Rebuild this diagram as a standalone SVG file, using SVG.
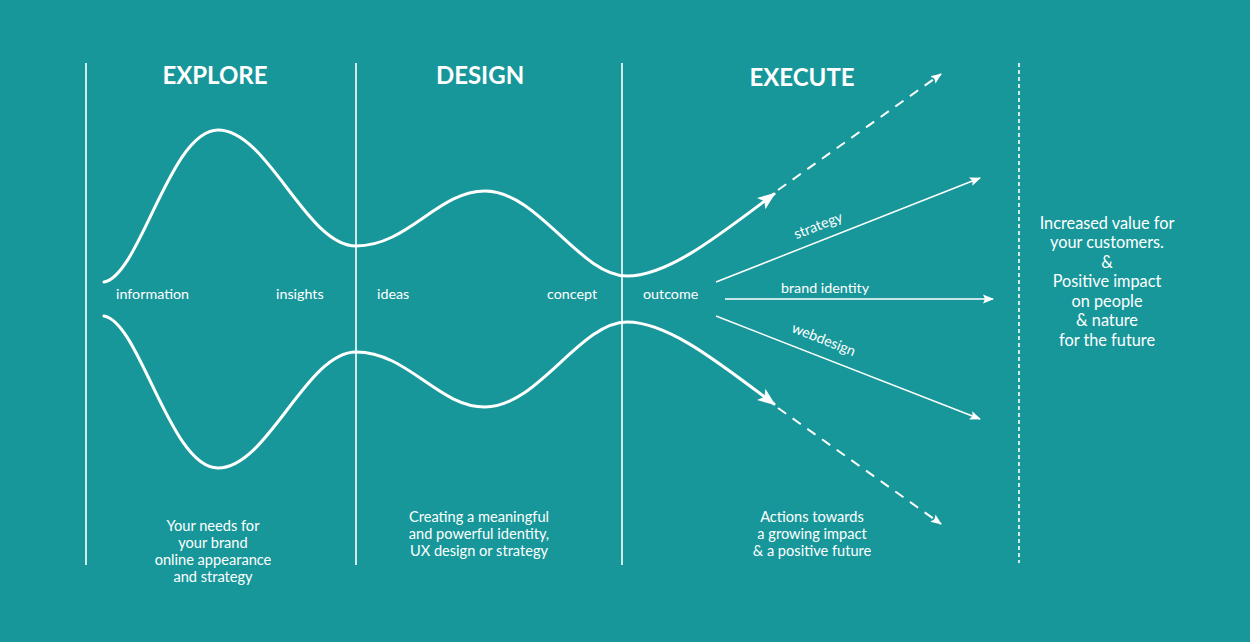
<svg xmlns="http://www.w3.org/2000/svg" width="1250" height="642" viewBox="0 0 1250 642">
<defs>
<style>
.bg{fill:#18979a}
.div{stroke:#fff;stroke-width:1.6;fill:none}
.curve{stroke:#fff;stroke-width:3;fill:none;stroke-linecap:round}
.thin{stroke:#fff;stroke-width:1.5;fill:none}
.dash{stroke:#fff;stroke-width:2;fill:none;stroke-dasharray:10 8}
.title{font-family:Lato,"Open Sans","Liberation Sans",sans-serif;font-weight:bold;font-size:24px;fill:#fff;text-anchor:middle}
.lbl{font-family:Lato,"Open Sans","Liberation Sans",sans-serif;font-size:14.3px;fill:#fff}
.desc{font-size:14.6px}
.mid{text-anchor:middle}
.big{font-size:16.3px}
</style>
<marker id="bigArrow" markerUnits="userSpaceOnUse" markerWidth="20" markerHeight="16" refX="16" refY="8" orient="auto">
<path d="M0,1 L18,8 L0,15 L4,8 Z" fill="#fff"/>
</marker>
<marker id="smallArrow" markerUnits="userSpaceOnUse" markerWidth="12" markerHeight="10" refX="10" refY="5" orient="auto">
<path d="M0,0.5 L11,5 L0,9.5 L2,5 Z" fill="#fff"/>
</marker>
</defs>
<rect class="bg" x="0" y="0" width="1250" height="642"/>

<g id="dividers">
<line class="div" x1="86" y1="63" x2="86" y2="565"/>
<line class="div" x1="356" y1="63" x2="356" y2="565"/>
<line class="div" x1="622" y1="63" x2="622" y2="565"/>
<line stroke="#fff" stroke-width="1.6" stroke-dasharray="4 3" x1="1019" y1="63" x2="1019" y2="563"/>
</g>

<g id="titles">
<text class="title" x="215" y="84">EXPLORE</text>
<text class="title" x="480" y="84">DESIGN</text>
<text class="title" x="802" y="86">EXECUTE</text>
</g>

<g id="connectors">
<path id="topCurve" class="curve" marker-end="url(#bigArrow)" d="M104,282 C140,276 170,130 218,130 C268,130 306,246 356,246 C408,246 438,191 485,191 C538,191 580,276 627,276 C668,276 718,236 774,194"/>
<path id="bottomCurve" class="curve" marker-end="url(#bigArrow)" d="M104,316 C140,322 170,468 218,468 C268,468 306,352 356,352 C408,352 438,407 485,407 C538,407 580,322 627,322 C668,322 718,362 774,404"/>
<line class="dash" x1="778" y1="190" x2="941" y2="74" marker-end="url(#smallArrow)"/>
<line class="dash" x1="778" y1="408" x2="941" y2="524" marker-end="url(#smallArrow)"/>
<line class="thin" x1="716" y1="282" x2="980" y2="178" marker-end="url(#smallArrow)"/>
<line class="thin" x1="725" y1="299" x2="993" y2="299" marker-end="url(#smallArrow)"/>
<line class="thin" x1="716" y1="316" x2="980" y2="419" marker-end="url(#smallArrow)"/>
</g>

<g id="stageLabels">
<text class="lbl" x="116" y="299">information</text>
<text class="lbl" x="276" y="299">insights</text>
<text class="lbl" x="377" y="299">ideas</text>
<text class="lbl" x="547" y="299">concept</text>
<text class="lbl" x="643" y="299">outcome</text>
</g>

<g id="branchLabels">
<text class="lbl mid" transform="translate(820,230) rotate(-21.5)">strategy</text>
<text class="lbl mid" x="825" y="293">brand identity</text>
<text class="lbl mid" transform="translate(822,344) rotate(21.5)">webdesign</text>
</g>

<g id="exploreText">
<text class="lbl desc mid" x="213" y="531">Your needs for</text>
<text class="lbl desc mid" x="213" y="548">your brand</text>
<text class="lbl desc mid" x="213" y="565">online appearance</text>
<text class="lbl desc mid" x="213" y="582">and strategy</text>
</g>

<g id="designText">
<text class="lbl desc mid" x="479" y="522">Creating a meaningful</text>
<text class="lbl desc mid" x="479" y="539">and powerful identity,</text>
<text class="lbl desc mid" x="479" y="556">UX design or strategy</text>
</g>

<g id="executeText">
<text class="lbl desc mid" x="812" y="522">Actions towards</text>
<text class="lbl desc mid" x="812" y="539">a growing impact</text>
<text class="lbl desc mid" x="812" y="556">&amp; a positive future</text>
</g>

<g id="resultText">
<text class="lbl mid big" x="1107" y="229">Increased value for</text>
<text class="lbl mid big" x="1107" y="248">your customers.</text>
<text class="lbl mid big" x="1107" y="268">&amp;</text>
<text class="lbl mid big" x="1107" y="287">Positive impact</text>
<text class="lbl mid big" x="1107" y="307">on people</text>
<text class="lbl mid big" x="1107" y="326">&amp; nature</text>
<text class="lbl mid big" x="1107" y="346">for the future</text>
</g>
</svg>
